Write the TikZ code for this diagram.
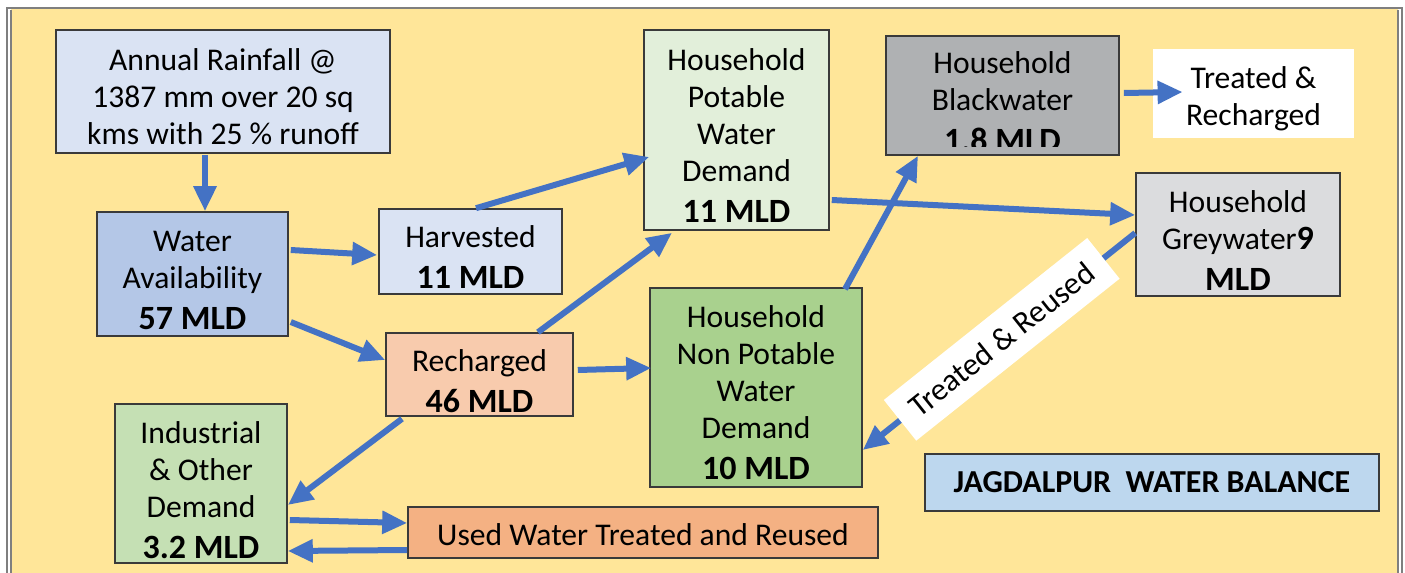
\documentclass[tikz,border=0pt]{standalone}
\usepackage{fontspec}
\setmainfont{Carlito}
\usetikzlibrary{calc,arrows.meta}
\definecolor{bgyellow}{HTML}{FFE699}
\definecolor{framegray}{HTML}{7F7F7F}
\definecolor{arrblue}{HTML}{4472C4}
\definecolor{boxline}{HTML}{3A3A3A}
\definecolor{clightblue}{HTML}{DAE3F3}
\definecolor{cmidblue}{HTML}{B4C7E7}
\definecolor{cpeach}{HTML}{F8CBAD}
\definecolor{cpalegreen}{HTML}{E2EFDA}
\definecolor{cdarkgray}{HTML}{AFB1B3}
\definecolor{clightgray}{HTML}{DBDCDE}
\definecolor{cgreen}{HTML}{A9D18E}
\definecolor{cmidgreen}{HTML}{C5E0B4}
\definecolor{corange}{HTML}{F4B183}
\definecolor{ctitle}{HTML}{BDD7EE}
\newcommand\bmld[1]{{\bfseries\fontsize{17}{18.5}\selectfont #1}}
\newcommand\toppad{\rule{0pt}{16.5pt}}
\tikzset{
  box/.style={draw=boxline, line width=0.8pt, align=center, inner sep=0pt,
    font=\fontsize{15.8}{18.5}\selectfont},
  txt/.style={align=center, inner sep=0pt, font=\fontsize{15.8}{18.5}\selectfont},
  arr/.style={draw=arrblue, line width=3pt, -{Triangle[length=12.5pt,width=11pt]}},
}
\begin{document}
\begin{tikzpicture}[x=0.5pt,y=-0.5pt]
\useasboundingbox (0,0) rectangle (1405,573);
% frame
\fill[bgyellow] (11,9) rectangle (1398,573);
\draw[framegray, line width=0.8pt] (7,573) -- (7,8) -- (1402,8) -- (1402,573);
\draw[framegray, line width=0.6pt] (11,573) -- (11,9.5);
\draw[framegray, line width=0.6pt] (1398,9.5) -- (1398,573);

% boxes
\node[box, fill=clightblue, minimum width=167pt, minimum height=61.5pt] (rain) at (223,91.5)
  {\toppad Annual Rainfall @\\1387 mm over 20 sq\\kms with 25 \% runoff};
\node[box, fill=cmidblue, minimum width=95.5pt, minimum height=62pt] (wa) at (192.5,274)
  {\toppad Water\\Availability\\[2pt]\bmld{57 MLD}};
\node[box, fill=clightblue, minimum width=91.5pt, minimum height=42.5pt] (harv) at (470.5,251.5)
  {\toppad Harvested\\[2pt]\bmld{11 MLD}};
\node[box, fill=cpeach, minimum width=93.5pt, minimum height=41.5pt] (rech) at (479.5,374.5)
  {\rule{0pt}{18pt}Recharged\\[2pt]\bmld{46 MLD}};
\node[box, fill=cpalegreen, minimum width=92.5pt, minimum height=100pt] (pot) at (736.5,130)
  {\toppad Household\\Potable\\Water\\Demand\\[2pt]\bmld{11 MLD}};
\node[box, fill=cdarkgray, minimum width=116.5pt, minimum height=59.5pt] (black) at (1002.5,95.5) {};
\begin{scope}
  \clip (886,36) rectangle (1119,146);
  \node[txt, anchor=north] (blacktxt) at (1002.5,51)
    {Household\\Blackwater\\[2pt]\bmld{1.8 MLD}};
\end{scope}
\node[txt, fill=white, minimum width=100.5pt, minimum height=44.5pt] (trrech) at (1253.5,93.5)
  {\toppad Treated \&\\Recharged};
\node[box, fill=clightgray, minimum width=102pt, minimum height=61.5pt] (grey) at (1238,234.5)
  {\toppad Household\\Greywater\bmld{9}\\[2pt]\bmld{MLD}};
\node[box, fill=cgreen, minimum width=106pt, minimum height=99.5pt] (nonpot) at (756,387.5)
  {\toppad Household\\Non Potable\\Water\\Demand\\[2pt]\bmld{10 MLD}};
\node[box, fill=cmidgreen, minimum width=86pt, minimum height=79.5pt] (ind) at (201,483.5)
  {\rule{0pt}{18pt}Industrial\\\& Other\\Demand\\[2pt]\bmld{3.2 MLD}};
\node[box, fill=corange, minimum width=235pt, minimum height=25.5pt] (used) at (643,532.5)
  {\rule{0pt}{13pt}Used Water Treated and Reused};
\node[box, fill=ctitle, minimum width=227pt, minimum height=28.5pt,
  font=\bfseries\fontsize{16}{18}\selectfont] (title) at (1152,482.5)
  {JAGDALPUR\ \ WATER BALANCE};

% arrows
\draw[arr] ($(rain.south)+(-18,1)$) -- ($(wa.north)+(12.5,0)$);
\draw[arr] ($(wa.east)+(2,-24)$) -- ($(harv.west)+(-1,3.5)$);
\draw[arr] ($(wa.east)+(2,48)$) -- ($(rech.west)+(0,-14.5)$);
\draw[arr] ($(harv.north)+(5.5,0)$) -- ($(pot.west)+(6,27)$);
\draw[arr] ($(rech.north)+(58.5,0)$) -- ($(pot.south)+(-64.5,2)$);
\draw[arr] ($(rech.east)+(4,-4.5)$) -- ($(nonpot.west)+(2,-19.5)$);
\draw[arr] ($(rech.south)+(-77.5,2)$) -- ($(ind.east)+(0,21.5)$);
\draw[arr] ($(pot.east)+(2,70)$) -- ($(grey.west)+(0,-19.5)$);
\draw[arr] ($(nonpot.north)+(89,2)$) -- ($(black.south)+(-84.5,0)$);
\draw[arr] ($(black.east)+(4,-2.5)$) -- ($(trrech.west)+(30,-1.5)$);
\draw[arr] ($(grey.west)+(0,-1.5)$) -- node[pos=0.49, sloped, fill=white, inner sep=0pt,
  minimum width=130pt, minimum height=26pt, font=\fontsize{15.8}{18.5}\selectfont] (trlabel)
  {Treated \& Reused} ($(nonpot.east)+(0,62.5)$);
\draw[arr] ($(ind.east)+(2,36.5)$) -- ($(used.west)+(0,-9.5)$);
\draw[arr] ($(used.west)+(0,17.5)$) -- ($(ind.east)+(0,67.5)$);
\end{tikzpicture}
\end{document}
